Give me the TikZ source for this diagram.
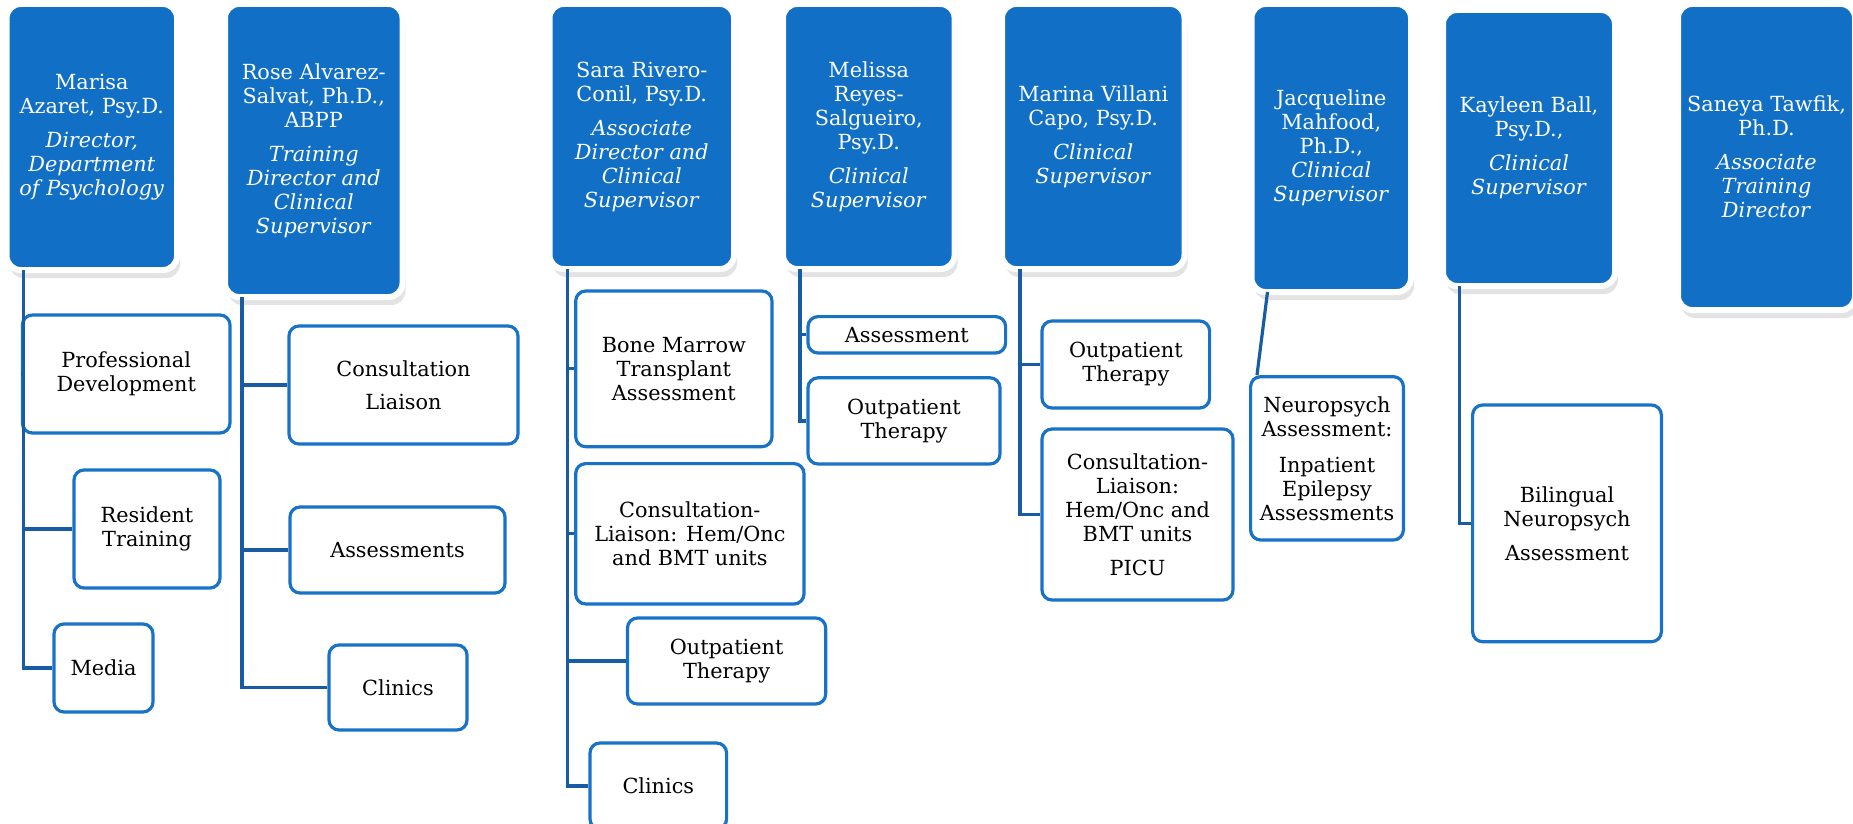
\documentclass[tikz,border=0pt]{standalone}
\usepackage{fontspec}
\setmainfont{DejaVu Serif}
\usepackage{tikz}
\usetikzlibrary{shadows}

\definecolor{headblue}{RGB}{17,112,197}
\definecolor{boxblue}{RGB}{24,114,200}
\definecolor{linkblue}{RGB}{24,92,164}

\tikzset{
  head/.style={fill=headblue, draw=white, line width=3pt, rounded corners=7pt,
    text=white, align=center, inner sep=1pt, outer sep=0pt,
    font=\fontsize{10.4}{12}\selectfont,
    drop shadow={shadow xshift=1.5pt, shadow yshift=-4pt, opacity=0.22}},
  sub/.style={fill=white, draw=boxblue, line width=1.6pt, rounded corners=5pt,
    align=center, inner sep=1pt, font=\fontsize{10.4}{12}\selectfont},
  link/.style={draw=linkblue, line width=1.6pt}
}

\begin{document}
\begin{tikzpicture}[x=0.5pt, y=-0.5pt]

\useasboundingbox (0,0) rectangle (1853,824);

%
% Marisa
%
\path 
(91.8,137) node[head, minimum width=85.2pt, minimum height=133pt] (marisa)
{Marisa\\Azaret, Psy.D.\\[5pt]\textit{Director,}\\\textit{Department}\\\textit{of Psychology}};

\path 
(126.2,374) node[sub, minimum width=103.8pt, minimum height=59pt] (profdev) {Professional\\Development};
\path 
(147,529) node[sub, minimum width=73pt, minimum height=59pt] (restrain) {Resident\\Training};
\path 
(103.5,668) node[sub, minimum width=49.5pt, minimum height=44pt] (media) {Media};

\coordinate (marisa-t) at ([xshift=8.4pt]marisa.south west);
\draw[link] (marisa-t) |- (media.west);
\draw[link] (marisa-t |- profdev.west) -- (profdev.west);
\draw[link] (marisa-t |- restrain.west) -- (restrain.west);


%
% Rose
%
\path 
(313.75,150.5) node[head, minimum width=88.75pt, minimum height=146.5pt] (rose)
{Rose Alvarez-\\Salvat, Ph.D.,\\ABPP\\[5pt]\textit{Training}\\\textit{Director and}\\\textit{Clinical}\\\textit{Supervisor}};

\path 
(403.5,385) node[sub, minimum width=114.5pt, minimum height=59pt] (rcons) {Consultation\\[4.5pt]Liaison};
\path 
(397.5,550) node[sub, minimum width=107.5pt, minimum height=43pt] (rassess) {Assessments};
\path 
(398,687.5) node[sub, minimum width=69pt, minimum height=42.5pt] (rclinics) {Clinics};

\coordinate (rose-t) at ([xshift=8.5pt]rose.south west);
\draw[link] (rose-t) |- (rclinics.west);
\draw[link] (rose-t |- rcons.west) -- (rcons.west);
\draw[link] (rose-t |- rassess.west) -- (rassess.west);


%
% Sara
%
\path 
(641.75,136.5) node[head, minimum width=92.25pt, minimum height=132.5pt] (sara)
{Sara Rivero-\\Conil, Psy.D.\\[5pt]\textit{Associate}\\\textit{Director and}\\\textit{Clinical}\\\textit{Supervisor}};

\path 
(673.85,368.85) node[sub, minimum width=98.15pt, minimum height=77.85pt] (bmt) {Bone Marrow\\Transplant\\Assessment};
\path 
(689.85,533.8) node[sub, minimum width=114.15pt, minimum height=70.2pt] (scons) {Consultation-\\Liaison: Hem/Onc\\and BMT units};
\path 
(726.6,661) node[sub, minimum width=99.1pt, minimum height=43pt] (stherapy) {Outpatient\\Therapy};
\path 
(658.3,786) node[sub, minimum width=68.3pt, minimum height=43pt] (sclinics) {Clinics};

\coordinate (sara-t) at ([xshift=9.1pt]sara.south west);
\draw[link] (sara-t) |- (sclinics.west);
\draw[link] (sara-t |- bmt.west) -- (bmt.west);
\draw[link] (sara-t |- scons.west) -- (scons.west);
\draw[link] (sara-t |- stherapy.west) -- (stherapy.west);


%
% Melissa
%
\path 
(868.8,136.5) node[head, minimum width=85.8pt, minimum height=132.5pt] (melissa)
{Melissa\\Reyes-\\Salgueiro,\\Psy.D.\\[5pt]\textit{Clinical}\\\textit{Supervisor}};

\path 
(906.8,334.8) node[sub, minimum width=98.8pt, minimum height=18.2pt] (massess) {Assessment};
\path 
(904,420.9) node[sub, minimum width=96pt, minimum height=43.1pt] (mtherapy) {Outpatient\\Therapy};

\coordinate (melissa-t) at ([xshift=8.5pt]melissa.south west);
\draw[link] (melissa-t) |- (mtherapy.west);
\draw[link] (melissa-t |- massess.west) -- (massess.west);


%
% Marina
%
\path 
(1093.25,136.5) node[head, minimum width=91.25pt, minimum height=132.5pt] (marina)
{Marina Villani\\Capo, Psy.D.\\[5pt]\textit{Clinical}\\\textit{Supervisor}};

\path 
(1125.8,364.5) node[sub, minimum width=83.8pt, minimum height=43.5pt] (mtherapy2) {Outpatient\\Therapy};
\path 
(1137.5,514.5) node[sub, minimum width=95.5pt, minimum height=85.5pt] (mcons) {Consultation-\\Liaison:\\Hem/Onc and\\BMT units\\[5pt]PICU};

\coordinate (marina-t) at ([xshift=9pt]marina.south west);
\draw[link] (marina-t) |- (mcons.west);
\draw[link] (marina-t |- mtherapy2.west) -- (mtherapy2.west);


%
% Jacqueline
%
\path 
(1331.25,148) node[head, minimum width=79.75pt, minimum height=144pt] (jacqueline)
{Jacqueline\\Mahfood,\\Ph.D.,\\\textit{Clinical}\\\textit{Supervisor}};

\path 
(1327,458.35) node[sub, minimum width=76.4pt, minimum height=81.65pt, inner sep=0.5pt] (neuro) {Neuropsych\\Assessment:\\[6pt]Inpatient\\Epilepsy\\Assessments};

\draw[link] ([xshift=8pt]jacqueline.south west) -- ([xshift=4pt]neuro.north west);


%
% Kayleen
%
\path 
(1529,148) node[head, minimum width=86pt, minimum height=138pt] (kayleen)
{Kayleen Ball,\\Psy.D.,\\[5pt]\textit{Clinical}\\\textit{Supervisor}};

\path 
(1567,523.35) node[sub, minimum width=94.4pt, minimum height=118.35pt] (biling) {Bilingual\\Neuropsych\\[5pt]Assessment};

\coordinate (kayleen-t) at ([xshift=8.3pt]kayleen.south west);
\draw[link] (kayleen-t) |- (biling.west);


%
% Saneya
%
\path 
(1766.5,157) node[head, minimum width=88.5pt, minimum height=153pt] (saneya)
{Saneya Tawfik,\\Ph.D.\\[5pt]\textit{Associate}\\\textit{Training}\\\textit{Director}};

\end{tikzpicture}
\end{document}
